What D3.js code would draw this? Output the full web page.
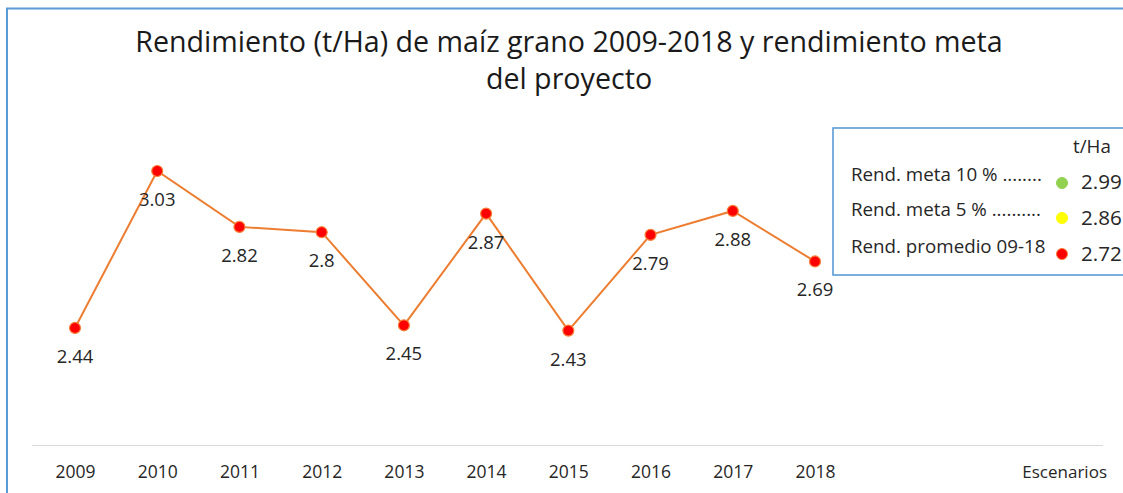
<!DOCTYPE html>
<html>
<head>
<meta charset="utf-8">
<script src="https://cdn.jsdelivr.net/npm/d3@7"></script>
<style>
  body { margin: 0; background: #fff; }
  svg { display: block; font-family: "Open Sans", "Noto Sans", sans-serif; }
</style>
</head>
<body>
<div id="chart"></div>
<script>
var years = ["2009","2010","2011","2012","2013","2014","2015","2016","2017","2018"];
var rendimiento = [2.44, 3.03, 2.82, 2.8, 2.45, 2.87, 2.43, 2.79, 2.88, 2.69];
var titleLines = ["Rendimiento (t/Ha) de maíz grano 2009-2018 y rendimiento meta", "del proyecto"];
var legendLabels = ["Rend. meta 10 % ........", "Rend. meta 5 % ..........", "Rend. promedio 09-18"];
var legendValues = ["2.99", "2.86", "2.72"];
var legendColors = ["#92D050", "#FFFF00", "#FF0000"];
var legendUnit = "t/Ha";
var xTitle = "Escenarios";

var width = 1123, height = 493;

var svg = d3.select("#chart").append("svg")
    .attr("width", width)
    .attr("height", height);

svg.append("rect")
    .attr("width", width).attr("height", height)
    .attr("fill", "#fff");

// outer chart frame (runs off the right/bottom of the crop)
svg.append("rect")
    .attr("x", 7).attr("y", 8.5)
    .attr("width", 1140).attr("height", 520)
    .attr("fill", "none")
    .attr("stroke", "#5B9BD5")
    .attr("stroke-width", 2);

function fitFont(sel, target) {
  var w = sel.node().getComputedTextLength();
  var fs = parseFloat(sel.style("font-size"));
  var nfs = fs * target / w;
  sel.style("font-size", nfs + "px");
  return nfs;
}

// title
var t1 = svg.append("text")
    .attr("x", 569).attr("y", 52)
    .attr("text-anchor", "middle")
    .style("font-size", "26px")
    .attr("fill", "#1a1a1a")
    .text(titleLines[0]);
var tfs = fitFont(t1, 868);
svg.append("text")
    .attr("x", 569).attr("y", 89)
    .attr("text-anchor", "middle")
    .style("font-size", tfs + "px")
    .attr("fill", "#1a1a1a")
    .text(titleLines[1]);

var x = d3.scalePoint()
    .domain(years)
    .range([75, 815]);

var y = d3.scaleLinear()
    .domain([2, 3.5])
    .range([445, 46]);

// category axis
svg.append("line")
    .attr("x1", 32).attr("x2", 1103)
    .attr("y1", 445.5).attr("y2", 445.5)
    .attr("stroke", "#D9D9D9")
    .attr("stroke-width", 1.2);

var xAxis = svg.append("g")
    .attr("transform", "translate(0,445)")
    .call(d3.axisBottom(x).tickSize(0));
xAxis.select(".domain").remove();
xAxis.selectAll("text")
    .attr("y", 33).attr("dy", 0)
    .style("font-family", "\"Open Sans\", sans-serif")
    .style("font-size", "17.5px")
    .attr("fill", "#262626");

svg.append("text")
    .attr("x", 1107).attr("y", 478)
    .attr("text-anchor", "end")
    .style("font-size", "17px")
    .attr("fill", "#262626")
    .text(xTitle);

var data = years.map(function(yr, i) { return {year: yr, value: rendimiento[i]}; });

var line = d3.line()
    .x(function(d) { return x(d.year); })
    .y(function(d) { return y(d.value); });

svg.append("path")
    .datum(data)
    .attr("d", line)
    .attr("fill", "none")
    .attr("stroke", "#ED7D31")
    .attr("stroke-width", 2);

svg.selectAll(".pt")
    .data(data)
  .enter().append("circle")
    .attr("class", "pt")
    .attr("cx", function(d) { return x(d.year); })
    .attr("cy", function(d) { return y(d.value); })
    .attr("r", 5.5)
    .attr("fill", "#FF0000")
    .attr("stroke", "#F8803A")
    .attr("stroke-width", 1.2);

svg.selectAll(".lbl")
    .data(data)
  .enter().append("text")
    .attr("class", "lbl")
    .attr("x", function(d) { return x(d.year); })
    .attr("y", function(d) { return y(d.value) + 35; })
    .attr("text-anchor", "middle")
    .style("font-size", "18.5px")
    .attr("fill", "#262626")
    .text(function(d) { return d.value; });

// legend box
var lg = svg.append("g");
lg.append("rect")
    .attr("x", 833).attr("y", 128)
    .attr("width", 320).attr("height", 147)
    .attr("fill", "#fff")
    .attr("stroke", "#5B9BD5")
    .attr("stroke-width", 1.6);

var rowText = [181, 216, 253], rowDot = [183, 218, 254], rowVal = [189, 225, 261];

var first = lg.append("text")
    .attr("x", 851).attr("y", rowText[0])
    .style("font-size", "15px")
    .attr("fill", "#262626")
    .text(legendLabels[0]);
var lfs = fitFont(first, 191);

legendLabels.slice(1).forEach(function(l, i) {
  lg.append("text")
    .attr("x", 851).attr("y", rowText[i + 1])
    .style("font-size", lfs + "px")
    .attr("fill", "#262626")
    .text(l);
});

lg.append("text")
    .attr("x", 1073).attr("y", 153)
    .style("font-size", lfs + "px")
    .attr("fill", "#262626")
    .text(legendUnit);

lg.selectAll(".ldot")
    .data(legendColors)
  .enter().append("circle")
    .attr("class", "ldot")
    .attr("cx", 1062)
    .attr("cy", function(d, i) { return rowDot[i]; })
    .attr("r", 5.5)
    .attr("fill", function(d) { return d; })
    .attr("stroke", function(d, i) { return i == 2 ? "#F8803A" : d; })
    .attr("stroke-width", 1);

lg.selectAll(".lval")
    .data(legendValues)
  .enter().append("text")
    .attr("class", "lval")
    .attr("x", 1081)
    .attr("y", function(d, i) { return rowVal[i]; })
    .style("font-size", (lfs * 1.1) + "px")
    .attr("fill", "#262626")
    .text(function(d) { return d; });
</script>
</body>
</html>
